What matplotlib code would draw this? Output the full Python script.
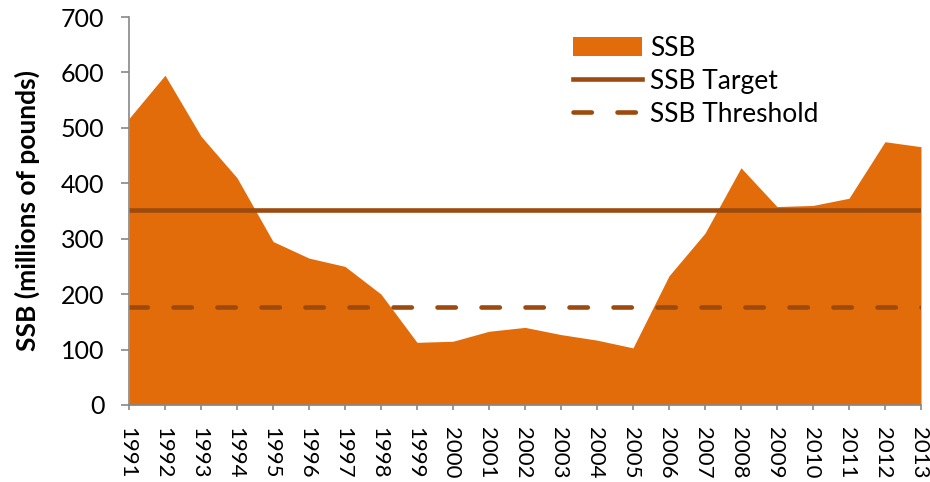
import matplotlib
matplotlib.use("Agg")
import matplotlib.pyplot as plt

# SSB by year
years = list(range(1991, 2014))
ssb = [517, 595, 485, 410, 295, 265, 250, 200, 113, 115, 133, 140,
       127, 117, 103, 233, 310, 428, 358, 360, 373, 475, 466]
ssb_target = 352
ssb_threshold = 176

plt.rcParams["font.family"] = ["Lato", "DejaVu Sans"]

fig = plt.figure(figsize=(9.3, 4.82), dpi=100)
ax = fig.add_axes([0.1387, 0.1598, 0.8516, 0.8049])

ax.fill_between(years, ssb, 0, color="#E36C0A", linewidth=0, label="SSB")
ax.plot(years, [ssb_target] * len(years), color="#9C4A0E", linewidth=3.3,
        label="SSB Target")
ax.plot(years, [ssb_threshold] * len(years), color="#9C4A0E", linewidth=3.3,
        linestyle=(0, (4.0, 5.6)), dash_capstyle="round", label="SSB Threshold")

ax.set_xlim(years[0], years[-1])
ax.set_ylim(0, 700)
ax.set_yticks(range(0, 701, 100))
ax.set_xticks(years)
ax.set_xticklabels([str(y) for y in years], rotation=-90,
                   rotation_mode="anchor", ha="left", va="center_baseline")
ax.tick_params(axis="both", color="#888888", width=1.2)
ax.tick_params(axis="x", direction="out", length=3.6, pad=12, labelsize=16)
ax.tick_params(axis="y", direction="out", length=5.8, pad=12, labelsize=18)

for side in ["top", "right"]:
    ax.spines[side].set_visible(False)
for side in ["left", "bottom"]:
    ax.spines[side].set_color("#888888")
    ax.spines[side].set_linewidth(1.2)

ax.set_ylabel("SSB (millions of pounds)", fontsize=19, fontweight="bold", labelpad=15)

ax.legend(loc="upper left", bbox_to_anchor=(0.531, 1.013), frameon=False,
          fontsize=19, handlelength=2.6, handletextpad=0.3, labelspacing=0.3)

fig.savefig("out.png", dpi=100)
